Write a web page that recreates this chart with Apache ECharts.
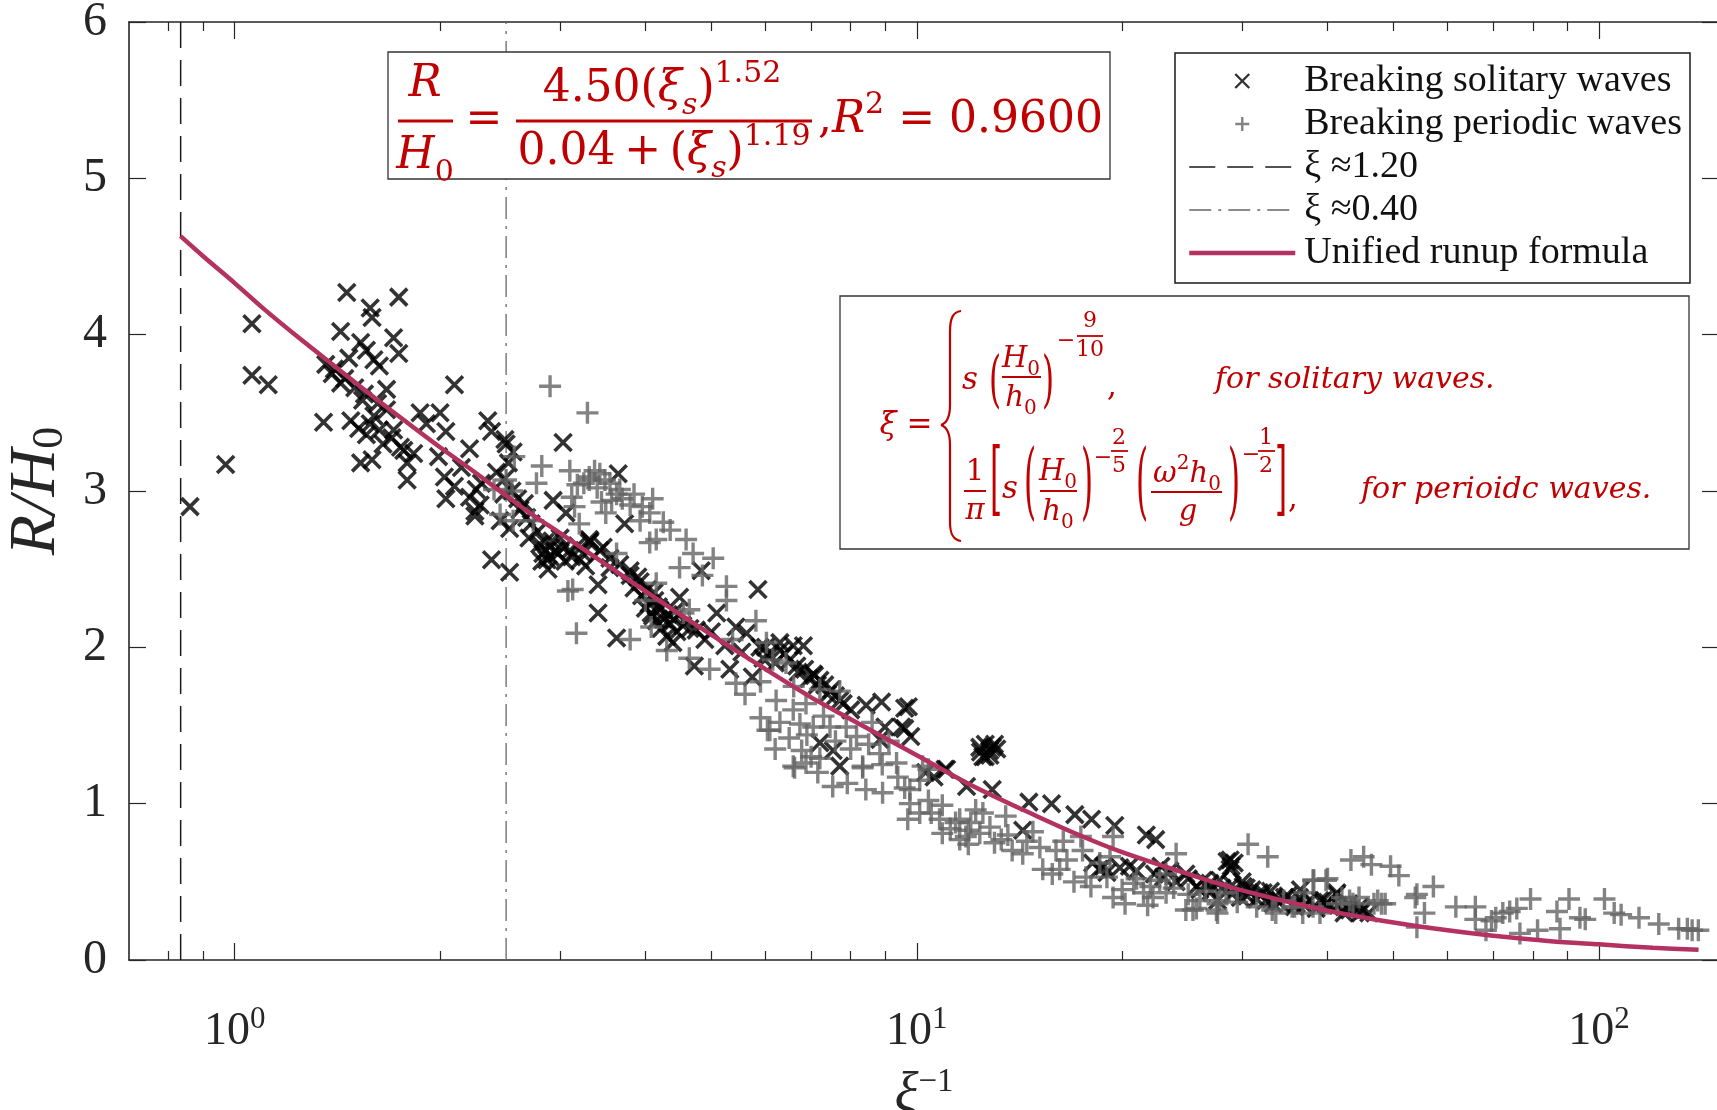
<!DOCTYPE html>
<html>
<head>
<meta charset="utf-8">
<title>Runup of breaking waves</title>
<script src="https://cdn.jsdelivr.net/npm/echarts@6/dist/echarts.min.js"></script>
<style>
  html, body { margin: 0; padding: 0; background: #fff; }
  #chart { width: 1717px; height: 1110px; }
</style>
</head>
<body>
<div id="chart"></div>
<script>
// x axis is xi^-1 on a log scale
const xMin = 0.7;
const xMax = 150;
const majorTicks = [1, 10, 100];
const minorTicks = [0.8, 0.9, 2, 3, 4, 5, 6, 7, 8, 9, 20, 30, 40, 50, 60, 70, 80, 90];

// threshold lines (xi values, drawn at 1/xi)
const xiSolitaryLimit = 1.20;
const xiPeriodicLimit = 0.40;

// unified runup formula
const curveX = [0.833, 0.9, 1, 1.1, 1.25, 1.4, 1.6, 1.8, 2, 2.25, 2.5, 2.75, 3, 3.5, 4, 4.5, 5, 6, 7, 8,
  10, 12, 15, 17.5, 20, 25, 30, 40, 50, 60, 70, 85, 100, 120, 140];
const curveY = [4.63, 4.50, 4.33, 4.17, 3.97, 3.80, 3.60, 3.43, 3.28, 3.12, 2.97, 2.84, 2.73, 2.53, 2.36, 2.21, 2.08, 1.86, 1.68, 1.54,
  1.31, 1.12, 0.92, 0.79, 0.69, 0.55, 0.445, 0.315, 0.24, 0.19, 0.155, 0.12, 0.10, 0.078, 0.065];

// breaking solitary waves  [xi^-1, R/H0]
const solitaryWaves = [
  [0.86, 2.90], [0.97, 3.17], [1.06, 4.07], [1.06, 3.74], [1.12, 3.68],
  [1.46, 4.27], [1.74, 4.24], [1.58, 4.17], [1.59, 4.11], [1.43, 4.02], [1.71, 3.98], [1.74, 3.88],
  [1.53, 3.95], [1.56, 3.90], [1.60, 3.84], [1.47, 3.85], [1.36, 3.81], [1.39, 3.75], [1.43, 3.69],
  [1.63, 3.80], [1.67, 3.65], [1.35, 3.44], [1.54, 3.58], [1.58, 3.43], [1.63, 3.39], [1.60, 3.48],
  [1.71, 3.39], [1.67, 3.52], [1.53, 3.18], [1.59, 3.20], [1.77, 3.26], [1.79, 3.18], [1.79, 3.07],
  [1.87, 3.50], [1.91, 3.43], [2.00, 3.50], [2.04, 3.38], [1.83, 3.24], [1.99, 3.22], [2.03, 3.09],
  [2.04, 2.95], [2.10, 3.68], [2.21, 3.27], [2.26, 3.01], [2.25, 2.84], [2.35, 3.45], [2.38, 3.38],
  [2.49, 3.33], [2.38, 2.56], [2.53, 2.48], [2.53, 2.76], [2.45, 2.81], [2.25, 2.87], [3.03, 3.31],
  [2.83, 2.60], [2.87, 2.56], [2.93, 2.94], [3.06, 2.86], [3.21, 2.56], [3.31, 2.67],
  [1.40, 3.78], [1.45, 3.72], [1.50, 3.66], [1.55, 3.62], [1.62, 3.56], [1.48, 3.45], [1.52, 3.40],
  [1.56, 3.36], [1.65, 3.30], [1.70, 3.34], [1.75, 3.28], [2.21, 2.96], [2.29, 2.91], [2.10, 3.03],
  [2.15, 3.15], [2.30, 3.05], [2.42, 3.12], [2.49, 3.08], [2.55, 3.00], [2.60, 2.95], [2.52, 3.18],
  [2.56, 3.25], [2.50, 3.30],
  [2.62, 2.88], [2.68, 2.83], [2.72, 2.79], [2.78, 2.74], [2.66, 2.92], [2.70, 2.70], [2.48, 2.98],
  [2.80, 2.66], [2.86, 2.62], [2.92, 2.68], [2.98, 2.60], [3.04, 2.64], [3.12, 2.58], [3.18, 2.65],
  [3.24, 2.60], [2.82, 2.55], [2.88, 2.50],
  [3.65, 3.11], [3.73, 2.79], [3.32, 2.68], [3.47, 2.64], [3.27, 2.52], [3.41, 2.40], [3.41, 2.22],
  [3.63, 2.06], [4.83, 2.49], [5.85, 2.37], [3.55, 2.51], [3.80, 2.49], [3.90, 2.45], [4.08, 2.22],
  [4.15, 2.17], [4.30, 2.07], [4.39, 2.03], [4.49, 2.32], [4.75, 2.11], [5.09, 2.22], [4.72, 1.88],
  [5.32, 1.86], [5.43, 2.13], [5.63, 2.09], [5.74, 1.81], [6.30, 2.03], [6.59, 2.01], [6.82, 2.01],
  [7.05, 1.83], [7.21, 1.79], [6.67, 1.88], [8.43, 1.63], [8.88, 1.65], [9.60, 1.61], [8.98, 1.49],
  [9.50, 1.49], [9.80, 1.43], [8.83, 1.41], [7.21, 1.39], [7.54, 1.34], [7.71, 1.24], [11.06, 1.22],
  [12.37, 1.36], [12.79, 1.34], [12.5, 1.30], [13.0, 1.38], [12.6, 1.38], [12.8, 1.31], [13.1, 1.35],
  [12.4, 1.33],
  [3.31, 2.69], [3.43, 2.62], [3.55, 2.57], [3.67, 2.53], [3.80, 2.46], [3.93, 2.42], [4.03, 2.37],
  [4.13, 2.30], [4.20, 2.24], [4.32, 2.21], [4.42, 2.23], [4.54, 2.14], [4.65, 2.12], [4.89, 2.05],
  [5.00, 2.10], [5.23, 2.01], [5.54, 1.97], [5.89, 2.00], [6.09, 1.95], [6.52, 1.92], [6.85, 1.86],
  [7.08, 1.82], [7.33, 1.76], [7.50, 1.73], [7.71, 1.66],
  [3.95, 2.33], [4.05, 2.28], [4.12, 2.35], [4.18, 2.26], [4.25, 2.18], [4.35, 2.15], [4.45, 2.10],
  [4.10, 2.20], [4.00, 2.25], [3.85, 2.38], [4.22, 2.12], [4.40, 2.18],
  [5.95, 1.93], [6.20, 1.90], [6.40, 1.96], [6.70, 1.84], [6.95, 1.80], [7.15, 1.76], [7.40, 1.70],
  [6.00, 2.00], [6.30, 1.98], [7.60, 1.69], [7.80, 1.64], [8.00, 1.60],
  [2.85, 2.67], [2.95, 2.62], [3.05, 2.55], [2.90, 2.58], [3.00, 2.70], [3.10, 2.62],
  [9.72, 1.62], [9.6, 1.48], [11.0, 1.22], [11.83, 1.11], [12.9, 1.36], [12.6, 1.30], [12.9, 1.09],
  [14.6, 1.01], [15.76, 1.00], [17.05, 0.93], [18.04, 0.90], [19.51, 0.86], [21.7, 0.80], [22.4, 0.77],
  [14.3, 0.83], [18.1, 0.62], [19.85, 0.59], [18.5, 0.58], [19.0, 0.56], [18.8, 0.60],
  [28.8, 0.64], [28.8, 0.58], [27.8, 0.51], [22.3, 0.55], [28.5, 0.63], [28.9, 0.60], [29.2, 0.62],
  [23.0, 0.53], [24.8, 0.55], [30.4, 0.46], [31.8, 0.43], [33.4, 0.40], [36.4, 0.40], [39.0, 0.38],
  [41.2, 0.42], [42.7, 0.34], [44.6, 0.34], [26.3, 0.51], [29.0, 0.48], [10.3, 1.20], [10.6, 1.17],
  [26.9, 0.49], [30.1, 0.47], [32.2, 0.43], [34.6, 0.40], [36.5, 0.45], [37.7, 0.38], [41.3, 0.43],
  [43.1, 0.32], [44.7, 0.30], [40.3, 0.34], [25.7, 0.47], [27.6, 0.38], [29.8, 0.40], [33.3, 0.36],
  [35.8, 0.34], [39.4, 0.38], [42.3, 0.30],
  [27.0, 0.44], [28.0, 0.46], [29.0, 0.42], [30.5, 0.41], [31.5, 0.39], [32.5, 0.38], [34.0, 0.37],
  [35.0, 0.41], [36.0, 0.36], [37.0, 0.35], [38.5, 0.33], [40.0, 0.37], [41.5, 0.35], [43.0, 0.36],
  [45.0, 0.32], [46.0, 0.30], [30.0, 0.50], [31.0, 0.45], [33.0, 0.44], [25.0, 0.52], [26.0, 0.45],
  [24.0, 0.50], [23.5, 0.57], [22.8, 0.60], [20.5, 0.60], [21.0, 0.57]
];

// breaking periodic waves  [xi^-1, R/H0]
const periodicWaves = [
  [2.90, 3.67], [3.29, 3.50], [2.82, 3.16], [2.77, 3.05], [3.12, 2.96], [3.31, 3.07], [3.20, 2.79],
  [3.13, 2.37], [3.17, 2.09], [2.57, 3.22], [2.56, 2.81], [2.40, 3.01], [2.50, 3.07], [2.74, 2.81],
  [3.31, 3.09], [3.43, 3.11], [3.63, 2.98], [3.50, 2.86], [3.96, 2.90], [4.06, 2.86], [4.25, 2.80],
  [4.59, 2.69], [4.06, 2.67], [4.15, 2.69], [5.03, 2.57], [4.49, 2.51], [3.63, 2.60], [5.26, 2.39],
  [5.26, 2.30], [4.15, 2.41], [4.00, 2.30], [4.64, 2.24], [4.55, 2.22], [4.08, 2.13], [3.80, 2.05],
  [4.30, 1.98], [4.64, 1.93], [4.97, 1.86], [5.43, 1.77], [5.37, 2.05], [5.81, 2.17], [6.02, 2.03],
  [6.15, 1.92], [6.43, 1.90], [6.22, 1.66], [6.09, 1.47], [6.59, 1.60], [6.88, 1.64], [7.21, 1.73],
  [6.74, 1.51], [7.05, 1.49], [7.46, 1.49], [7.71, 1.72], [7.88, 1.49], [8.16, 1.43], [6.59, 1.24],
  [6.88, 1.26], [7.21, 1.29], [8.33, 1.24], [8.83, 1.32], [9.34, 1.26], [10.2, 1.24],
  [3.37, 3.13], [3.49, 3.07], [3.67, 3.01], [3.57, 2.94], [3.80, 2.91], [3.93, 2.81], [3.10, 3.13],
  [3.18, 3.04], [2.45, 2.85], [2.55, 3.00], [3.08, 2.36],
  [3.25, 3.05], [3.40, 3.02], [3.55, 3.05], [3.70, 2.95], [3.85, 2.98], [3.45, 2.93], [3.15, 2.90],
  [4.10, 2.95], [4.35, 2.75], [4.70, 2.60], [4.85, 2.46],
  [6.04, 1.47], [6.78, 1.34], [6.62, 1.23], [7.16, 1.20], [7.53, 1.11], [7.91, 1.13], [8.42, 1.09],
  [8.91, 1.07], [8.33, 1.23], [9.38, 1.17],
  [5.90, 1.55], [6.30, 1.52], [6.50, 1.42], [6.90, 1.44], [7.30, 1.56], [7.60, 1.40], [8.00, 1.35],
  [8.50, 1.38], [8.90, 1.25], [9.60, 1.10], [6.20, 1.35], [7.00, 1.30], [5.60, 1.70], [5.90, 1.78],
  [6.60, 1.75], [8.60, 1.52], [9.10, 1.40],
  [9.77, 1.00], [10.1, 1.15], [10.4, 1.22], [9.7, 0.90], [10.5, 0.94], [10.9, 0.81], [11.56, 0.77],
  [11.56, 0.90], [11.9, 0.83], [12.2, 0.96], [12.37, 0.81], [13.0, 0.75], [13.5, 0.92], [13.8, 0.70],
  [14.3, 0.68], [15.15, 0.72], [15.3, 0.58], [15.8, 0.55], [16.6, 0.64], [17.4, 0.79], [17.5, 0.70],
  [17.7, 0.53], [18.55, 0.62], [19.2, 0.66], [19.4, 0.40], [19.4, 0.79], [20.8, 0.49], [21.5, 0.43],
  [22.2, 0.40], [23.2, 0.43], [22.7, 0.51], [24.0, 0.68], [23.2, 0.55], [24.8, 0.32], [25.4, 0.32],
  [27.5, 0.32], [27.8, 0.38], [30.6, 0.74], [32.7, 0.66], [33.6, 0.30], [35.5, 0.34], [38.1, 0.51],
  [39.8, 0.51], [38.1, 0.34], [43.1, 0.38], [46.8, 0.36], [48.0, 0.36], [43.3, 0.64], [45.2, 0.66],
  [46.4, 0.61], [49.5, 0.60], [50.9, 0.54], [53.8, 0.40],
  [9.77, 1.09], [10.1, 0.94], [10.4, 1.02], [10.9, 0.99], [11.4, 0.88], [11.8, 0.79], [11.9, 0.74],
  [12.5, 0.94], [13.3, 0.77],
  [10.8, 0.90], [11.2, 0.84], [12.0, 0.88], [12.8, 0.85], [13.6, 0.80], [14.5, 0.76], [14.8, 0.82],
  [16.0, 0.70], [16.4, 0.76],
  [16.2, 0.58], [17.0, 0.50], [18.0, 0.47], [19.0, 0.53], [20.0, 0.45], [21.0, 0.52], [22.0, 0.47],
  [23.8, 0.46], [25.0, 0.42], [26.0, 0.38], [20.2, 0.36], [21.8, 0.35],
  [26.5, 0.44], [29.5, 0.37], [31.5, 0.34], [34.5, 0.38], [36.8, 0.30], [39.0, 0.30], [42.0, 0.40],
  [44.5, 0.40],
  [57.2, 0.47], [54.1, 0.42], [55.5, 0.30], [54.1, 0.21], [61.7, 0.34], [65.9, 0.34], [65.9, 0.26],
  [68.3, 0.19], [69.6, 0.25], [70.6, 0.27], [72.3, 0.30], [74.0, 0.31], [75.8, 0.33], [76.6, 0.17],
  [79.4, 0.39], [81.3, 0.19], [86.8, 0.31], [87.7, 0.20], [90.4, 0.39], [93.8, 0.27], [95.5, 0.26],
  [101.9, 0.39], [105.3, 0.30], [107.8, 0.29], [114.5, 0.27], [122.4, 0.23], [130.9, 0.20],
  [134.8, 0.20], [139.9, 0.19], [137, 0.19], [27.6, 0.36], [27.6, 0.30], [25.7, 0.33], [28.4, 0.43],
  [33.2, 0.32], [35.8, 0.34], [37.0, 0.43], [38.2, 0.51], [40.0, 0.52], [41.3, 0.36], [43.6, 0.36],
  [47.4, 0.38], [48.6, 0.36]
];

const AXIS = '#262626';
const RED = '#c00000';
const SERIF = 'Liberation Serif';
const MATH = 'DejaVu Serif';
const logMin = Math.log10(xMin);
const logMax = Math.log10(xMax);

const chart = echarts.init(document.getElementById('chart'));

// extra value axes in log10 space, only used to draw major/minor ticks
function tickAxis(position, values, len, showLine) {
  return {
    type: 'value', position: position, min: logMin, max: logMax,
    axisLine: { show: showLine, onZero: false, lineStyle: { color: AXIS, width: 1.6 } },
    axisTick: { show: true, inside: true, length: len, customValues: values.map(Math.log10),
      lineStyle: { color: AXIS, width: 1.2 } },
    axisLabel: { show: false },
    splitLine: { show: false }
  };
}

function rich(size) {
  const small = Math.round(size * 0.68);
  const lh = Math.round(size * 1.4);
  return {
    n: { fill: RED, fontFamily: MATH, fontSize: size, lineHeight: lh },
    i: { fill: RED, fontFamily: MATH, fontSize: size, fontStyle: 'italic', lineHeight: lh },
    sup: { fill: RED, fontFamily: MATH, fontSize: small, lineHeight: small, verticalAlign: 'top' },
    sub: { fill: RED, fontFamily: MATH, fontSize: small, fontStyle: 'italic', lineHeight: small, verticalAlign: 'bottom' },
    subn: { fill: RED, fontFamily: MATH, fontSize: small, lineHeight: small, verticalAlign: 'bottom' }
  };
}

function mathText(x, y, text, opt) {
  opt = opt || {};
  const size = opt.size || 31;
  const align = opt.align || 'center';
  return {
    type: 'text', x: x, y: y, z: 100, scaleY: opt.scaleY || 1,
    style: {
      text: text, fill: RED, fontFamily: MATH, fontSize: size,
      fontStyle: opt.italic ? 'italic' : 'normal',
      align: align, verticalAlign: 'middle', textAlign: align, textVerticalAlign: 'middle',
      rich: rich(size)
    }
  };
}

function bar(x1, x2, y, w) {
  return { type: 'line', z: 100, shape: { x1: x1, y1: y, x2: x2, y2: y }, style: { stroke: RED, lineWidth: w || 2 } };
}

function vline(x, y1, y2) {
  return { type: 'line', z: 100, shape: { x1: x, y1: y1, x2: x, y2: y2 }, style: { stroke: RED, lineWidth: 2.2 } };
}

function curve(x1, y1, cx1, cy1, cx2, cy2, x2, y2) {
  return { type: 'bezierCurve', z: 100,
    shape: { x1: x1, y1: y1, cpx1: cx1, cpy1: cy1, cpx2: cx2, cpy2: cy2, x2: x2, y2: y2 },
    style: { fill: 'none', stroke: RED, lineWidth: 2.2 } };
}

function box(x, y, w, h) {
  return { type: 'rect', z: 90, shape: { x: x, y: y, width: w, height: h },
    style: { fill: '#fff', stroke: '#333', lineWidth: 1.3 } };
}

const formulaTop = [
  box(388, 52, 722, 127),
  mathText(425, 85, 'R', { size: 44, italic: true }),
  bar(398, 453, 121, 3),
  mathText(425, 157, '{i|H}{subn|0}', { size: 44 }),
  mathText(484, 121, '=', { size: 44 }),
  mathText(662, 90, '{n|4.50(}{i|ξ}{sub|s}{n|)}{sup|1.52}', { size: 44 }),
  bar(516, 812, 121, 3),
  mathText(664, 153, '{n|0.04\u2009+\u2009(}{i|ξ}{sub|s}{n|)}{sup|1.19}', { size: 44 }),
  mathText(818, 121, '{n|,}{i|R}{sup|2}{n| = 0.9600}', { size: 44, align: 'left' })
];

const formulaXi = [
  box(840, 296, 849, 253),
  mathText(906, 426, '{i|ξ}{n| =}', { size: 31 }),
  // left brace of the cases
  curve(961, 311, 953, 312, 950, 318, 950, 332),
  vline(950, 332, 405),
  curve(950, 405, 950, 417, 947, 423, 941, 425),
  curve(941, 425, 947, 427, 950, 433, 950, 445),
  vline(950, 445, 522),
  curve(950, 522, 950, 534, 953, 540, 961, 541),
  // solitary row
  mathText(970, 381, 's', { size: 31, italic: true }),
  mathText(995, 384, '(', { size: 31, scaleY: 2.0 }),
  mathText(1021, 359, '{i|H}{subn|0}', { size: 29 }),
  bar(1002, 1041, 377, 2),
  mathText(1021, 398, '{i|h}{subn|0}', { size: 29 }),
  mathText(1048, 384, ')', { size: 31, scaleY: 2.0 }),
  mathText(1066, 341, '−', { size: 22 }),
  mathText(1090, 321, '9', { size: 22 }),
  bar(1077, 1103, 336, 1.8),
  mathText(1090, 350, '10', { size: 22 }),
  mathText(1112, 388, ',', { size: 31 }),
  mathText(1215, 380, 'for solitary waves.', { size: 30, italic: true, align: 'left' }),
  // periodic row
  mathText(975, 472, '1', { size: 29 }),
  bar(964, 986, 491, 2),
  mathText(975, 511, 'π', { size: 29, italic: true }),
  mathText(996, 484, '[', { size: 31, scaleY: 2.6 }),
  mathText(1010, 490, 's', { size: 31, italic: true }),
  mathText(1030, 487, '(', { size: 31, scaleY: 2.7 }),
  mathText(1058, 472, '{i|H}{subn|0}', { size: 29 }),
  bar(1040, 1077, 491, 2),
  mathText(1058, 512, '{i|h}{subn|0}', { size: 29 }),
  mathText(1087, 487, ')', { size: 31, scaleY: 2.7 }),
  mathText(1103, 458, '−', { size: 22 }),
  mathText(1119, 438, '2', { size: 22 }),
  bar(1111, 1128, 451, 1.8),
  mathText(1119, 466, '5', { size: 22 }),
  mathText(1142, 487, '(', { size: 31, scaleY: 2.7 }),
  mathText(1187, 474, '{i|ω}{sup|2}{i|h}{subn|0}', { size: 29 }),
  bar(1151, 1222, 492, 2),
  mathText(1188, 512, 'g', { size: 29, italic: true }),
  mathText(1234, 487, ')', { size: 31, scaleY: 2.7 }),
  mathText(1251, 455, '−', { size: 22 }),
  mathText(1266, 438, '1', { size: 22 }),
  bar(1258, 1275, 451, 1.8),
  mathText(1266, 466, '2', { size: 22 }),
  mathText(1281, 484, ']', { size: 31, scaleY: 2.6 }),
  mathText(1293, 500, ',', { size: 31 }),
  mathText(1361, 490, 'for perioidc waves.', { size: 30, italic: true, align: 'left' })
];

const hidden = { color: 'rgba(0,0,0,0)', borderColor: 'rgba(0,0,0,0)', borderWidth: 0 };

const option = {
  animation: false,
  backgroundColor: '#fff',
  grid: { left: 129, top: 22, width: 1590, height: 938, containLabel: false, outerBoundsMode: 'none' },
  legend: {
    orient: 'vertical', left: 1175, top: 53,
    padding: [9, 8, 11, 12],
    itemWidth: 106, itemHeight: 14, itemGap: 5,
    backgroundColor: '#fff', borderColor: '#1a1a1a', borderWidth: 1.5,
    textStyle: { fontFamily: SERIF, fontSize: 38, lineHeight: 38, color: '#111', padding: [0, 0, 0, 4] },
    data: [
      { name: 'Breaking solitary waves', itemStyle: { borderWidth: 2.4 } },
      { name: 'Breaking periodic waves', itemStyle: { borderWidth: 2.4 } },
      { name: 'ξ ≈1.20', lineStyle: { width: 1.5 } },
      { name: 'ξ ≈0.40', lineStyle: { width: 1.3 } },
      { name: 'Unified runup formula', lineStyle: { width: 4.5 } }
    ],
    z: 50
  },
  xAxis: [
    {
      type: 'log', logBase: 10, min: xMin, max: xMax, position: 'bottom',
      axisLine: { show: true, onZero: false, lineStyle: { color: AXIS, width: 1.6 } },
      axisTick: { show: false },
      splitLine: { show: false },
      axisLabel: {
        margin: 44,
        formatter: function (v) {
          const p = Math.log10(v);
          const e = Math.round(p);
          if (Math.abs(p - e) > 1e-6 || majorTicks.indexOf(Math.pow(10, e)) < 0) return '';
          return '{b|10}{s|' + e + '}';
        },
        rich: {
          b: { fontFamily: SERIF, fontSize: 46, color: AXIS, lineHeight: 56 },
          s: { fontFamily: SERIF, fontSize: 31, color: AXIS, lineHeight: 16, verticalAlign: 'top' }
        }
      },
      name: '{i|ξ}{s|−1}', nameLocation: 'middle', nameGap: 106,
      nameTextStyle: {
        rich: {
          i: { fontFamily: SERIF, fontSize: 56, fontStyle: 'italic', color: AXIS, lineHeight: 60 },
          s: { fontFamily: SERIF, fontSize: 33, color: AXIS, lineHeight: 26, verticalAlign: 'top' }
        }
      }
    },
    tickAxis('bottom', minorTicks, 9, false),
    tickAxis('bottom', majorTicks, 17, false),
    tickAxis('top', minorTicks, 9, true),
    tickAxis('top', majorTicks, 17, false)
  ],
  yAxis: [
    {
      type: 'value', min: 0, max: 6, interval: 1, position: 'left',
      axisLine: { show: true, onZero: false, lineStyle: { color: AXIS, width: 1.6 } },
      axisTick: { inside: true, length: 17, lineStyle: { color: AXIS, width: 1.2 } },
      splitLine: { show: false },
      axisLabel: { margin: 22, fontFamily: SERIF, fontSize: 48, color: AXIS },
      name: '{i|R/H}{s|0}', nameLocation: 'middle', nameGap: 36,
      nameTextStyle: {
        rich: {
          i: { fontFamily: SERIF, fontSize: 66, fontStyle: 'italic', color: AXIS, lineHeight: 70 },
          s: { fontFamily: SERIF, fontSize: 44, color: AXIS, lineHeight: 44, verticalAlign: 'bottom' }
        }
      }
    },
    {
      type: 'value', min: 0, max: 6, interval: 1, position: 'right',
      axisLine: { show: true, onZero: false, lineStyle: { color: AXIS, width: 1.6 } },
      axisTick: { inside: true, length: 17, lineStyle: { color: AXIS, width: 1.2 } },
      splitLine: { show: false },
      axisLabel: { show: false }
    }
  ],
  series: [
    {
      name: 'Breaking solitary waves', type: 'scatter', data: solitaryWaves,
      symbol: 'path://M0,0L10,10M10,0L0,10', symbolSize: 17, symbolKeepAspect: true,
      itemStyle: { color: '#000', borderColor: '#000', borderWidth: 3.6 },
      emphasis: { disabled: true }, z: 3
    },
    {
      name: 'Breaking periodic waves', type: 'scatter', data: periodicWaves,
      symbol: 'path://M5,0L5,10M0,5L10,5', symbolSize: 22, symbolKeepAspect: true,
      itemStyle: { color: '#646464', borderColor: '#646464', borderWidth: 3.4 },
      emphasis: { disabled: true }, z: 3
    },
    {
      name: 'ξ ≈1.20', type: 'line', symbol: 'none', itemStyle: hidden,
      data: [[1 / xiSolitaryLimit, 0], [1 / xiSolitaryLimit, 6]],
      lineStyle: { color: '#1a1a1a', width: 1.5, type: [26, 12] }, z: 2
    },
    {
      name: 'ξ ≈0.40', type: 'line', symbol: 'none', itemStyle: hidden,
      data: [[1 / xiPeriodicLimit, 0], [1 / xiPeriodicLimit, 6]],
      lineStyle: { color: '#666', width: 1.3, type: [22, 7, 3, 7] }, z: 2
    },
    {
      name: 'Unified runup formula', type: 'line', symbol: 'none', smooth: 0.3, itemStyle: hidden,
      data: curveX.map((x, i) => [x, curveY[i]]),
      lineStyle: { color: '#b3325f', width: 4.5 }, z: 4
    }
  ],
  graphic: formulaTop.concat(formulaXi)
};

chart.setOption(option);
</script>
</body>
</html>
